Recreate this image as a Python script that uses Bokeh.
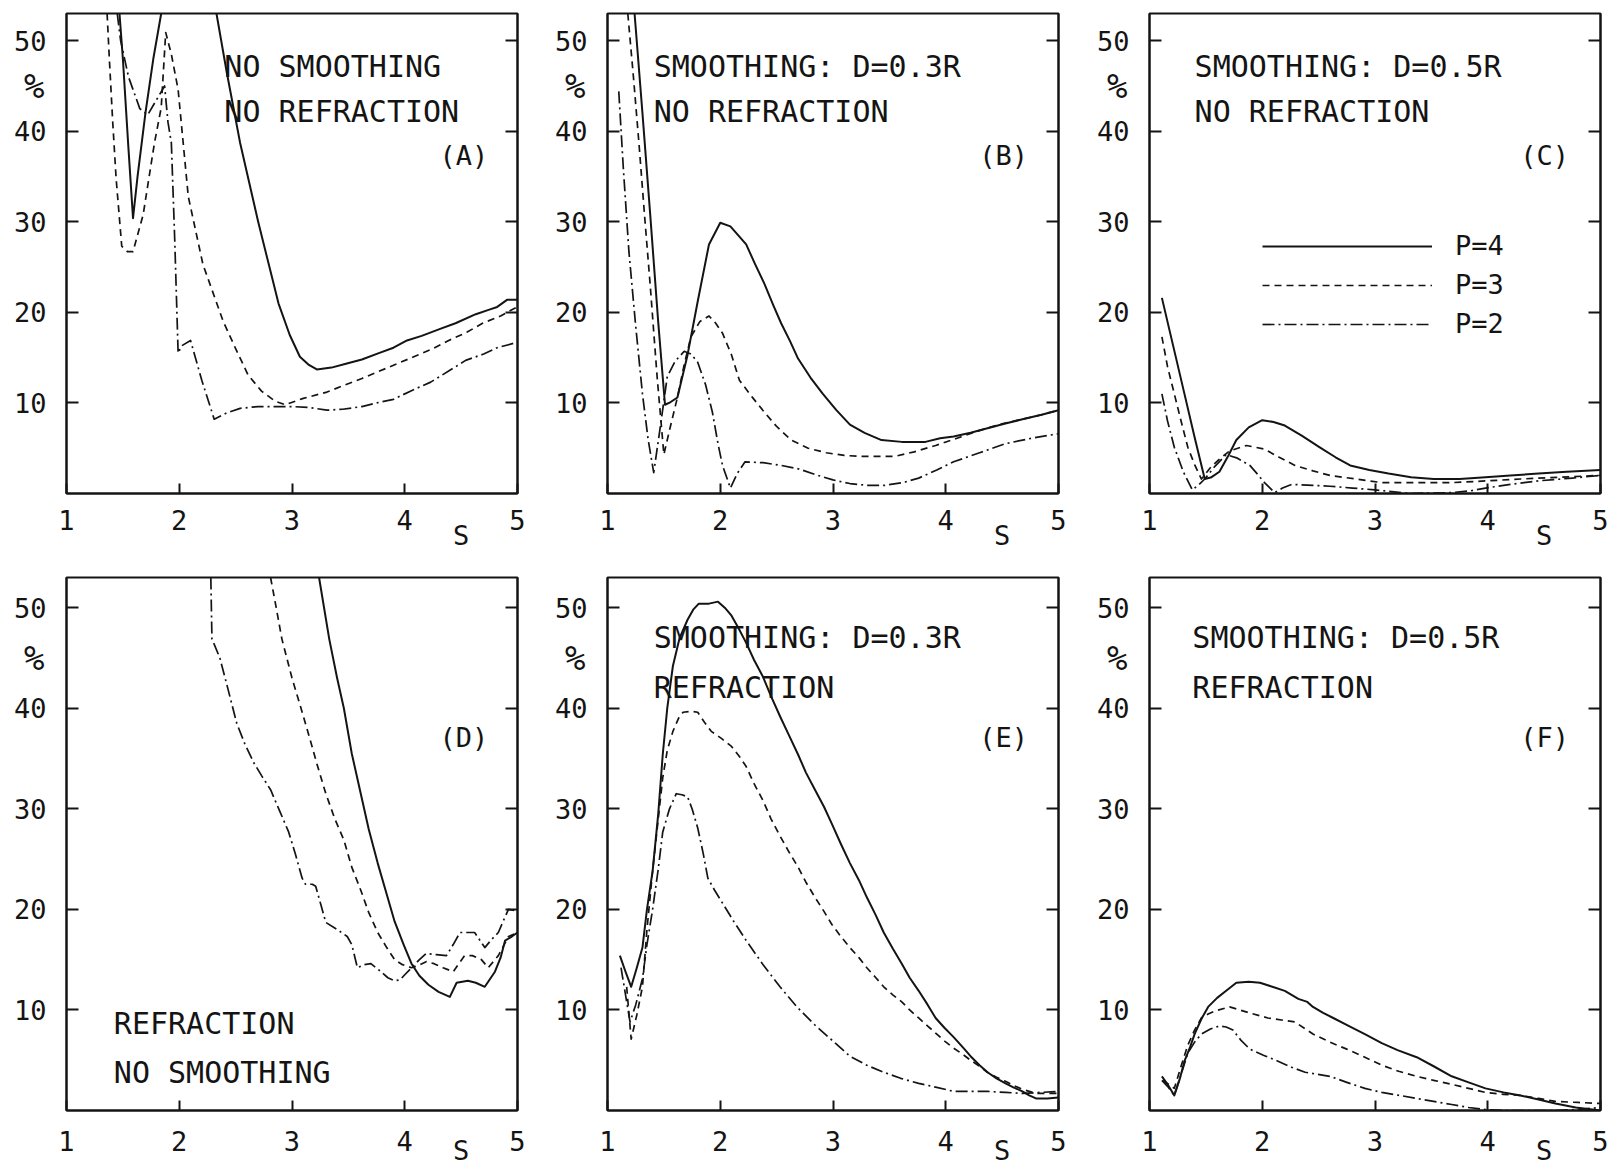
import math
from bokeh.plotting import figure
from bokeh.layouts import column, row
from bokeh.models import Range1d, FixedTicker, LinearAxis, Label, Legend, LegendItem
from bokeh.embed import file_html
from bokeh.resources import INLINE

NAN = float("nan")

# ---------------- axes / labels ----------------
S_TICKS = [1, 2, 3, 4, 5]
PCT_TICKS = [10, 20, 30, 40, 50]
SERIES = ["P=4", "P=3", "P=2"]
X_NAME, X_NAME_AT = "S", 4.5      # axis name written between the 4 and 5 ticks
Y_NAME, Y_NAME_AT = "%", 45       # axis name written under the 50 tick

# ---------------- panel A : no smoothing, no refraction ----------------
A_S4 = [1.47, 1.50, 1.55, 1.59, 1.63, 1.70, 1.77, 1.84, NAN, 2.33, 2.42, 2.54, 2.70, 2.80, 2.88, 2.98, 3.07, 3.15, 3.22,
        3.35, 3.47, 3.62, 3.77, 3.90, 4.02, 4.15, 4.32, 4.45, 4.63, 4.75, 4.82, 4.91, 5.0]
A_V4 = [53, 48, 38, 30.4, 35, 42, 48, 53, NAN, 53, 46.6, 38.7, 30.0, 25.0, 21.0, 17.5, 15.1, 14.2, 13.7,
        13.9, 14.3, 14.8, 15.5, 16.1, 16.9, 17.4, 18.2, 18.8, 19.8, 20.3, 20.6, 21.4, 21.4]
A_S3 = [1.36, 1.38, 1.41, 1.44, 1.49, 1.54, 1.59, 1.68, 1.78, 1.84, 1.88, 1.93, 1.99, 2.08, 2.21, 2.39, 2.50, 2.61,
        2.73, 2.85, 2.94, 3.10, 3.31, 3.45, 3.62, 3.85, 4.08, 4.25, 4.39, 4.55, 4.69, 4.85, 4.95, 5.0]
A_V3 = [53, 48, 41, 34.8, 27.3, 26.7, 26.7, 30.8, 38.7, 42.6, 50.9, 48.5, 44.6, 32.8, 25.3, 19.0, 16.0, 13.1,
        11.3, 10.2, 9.8, 10.5, 11.2, 11.9, 12.7, 13.9, 15.1, 16.0, 16.9, 17.8, 18.8, 19.6, 20.3, 20.6]
A_S2 = [1.45, 1.48, 1.55, 1.65, 1.72, 1.80, 1.87, 1.90, 1.93, 1.96, 1.99, 2.02, 2.10, 2.20, 2.31, 2.42, 2.54, 2.70,
        2.85, 3.0, 3.15, 3.31, 3.45, 3.62, 3.75, 3.90, 4.05, 4.23, 4.40, 4.54, 4.70, 4.82, 5.0]
A_V2 = [53, 50, 46, 42.5, 41.8, 43.5, 45.0, 41, 38.7, 28, 15.5, 16.3, 16.9, 12.5, 8.2, 8.9, 9.4, 9.6,
        9.6, 9.6, 9.5, 9.2, 9.3, 9.6, 10.0, 10.4, 11.3, 12.3, 13.6, 14.7, 15.4, 16.1, 16.7]

# ---------------- panel B : smoothing D=0.3R, no refraction ----------------
B_S4 = [1.24, 1.31, 1.38, 1.45, 1.51, 1.56, 1.62, 1.71, 1.80, 1.90, 2.0, 2.09, 2.16, 2.23, 2.31, 2.39, 2.47, 2.54,
        2.62, 2.69, 2.80, 2.91, 3.03, 3.15, 3.28, 3.43, 3.61, 3.82, 3.95, 4.07, 4.22, 4.37, 4.52, 4.68, 4.85, 5.0]
B_V4 = [53, 42, 30.6, 18.9, 9.8, 10.1, 10.6, 15.3, 21.2, 27.5, 29.9, 29.5, 28.5, 27.5, 25.3, 23.2, 20.8, 18.8,
        16.8, 14.9, 12.8, 11.0, 9.2, 7.6, 6.7, 5.9, 5.7, 5.7, 6.1, 6.3, 6.7, 7.2, 7.7, 8.2, 8.7, 9.2]
B_S3 = [1.18, 1.23, 1.28, 1.33, 1.38, 1.44, 1.50, 1.55, 1.62, 1.68, 1.74, 1.82, 1.90, 1.96, 2.02, 2.10, 2.17, 2.28,
        2.39, 2.50, 2.63, 2.78, 2.94, 3.10, 3.24, 3.40, 3.55, 3.72, 3.91, 4.10, 4.31, 4.50, 4.68, 4.85, 5.0]
B_V3 = [53, 46, 38.5, 30.5, 22.8, 12.9, 4.3, 7.0, 10.6, 14.2, 17.3, 19.0, 19.6, 18.8, 17.7, 15.3, 12.5, 10.7,
        9.0, 7.4, 5.9, 5.0, 4.5, 4.2, 4.1, 4.1, 4.1, 4.6, 5.3, 6.1, 7.0, 7.7, 8.2, 8.7, 9.2]
B_S2 = [1.10, 1.14, 1.19, 1.25, 1.31, 1.36, 1.41, 1.47, 1.53, 1.60, 1.68, 1.74, 1.80, 1.87, 1.93, 1.98, 2.02, 2.09,
        2.15, 2.22, 2.38, 2.54, 2.70, 2.84, 3.0, 3.15, 3.30, 3.46, 3.62, 3.76, 3.92, 4.07, 4.30, 4.53, 4.76, 5.0]
B_V2 = [44.4, 36, 26.7, 18.5, 11.0, 6.0, 2.3, 7.5, 12.9, 14.6, 15.7, 15.4, 14.5, 12.0, 9.0, 5.5, 3.1, 0.6,
        2.2, 3.5, 3.4, 3.1, 2.7, 2.1, 1.5, 1.1, 0.9, 0.9, 1.2, 1.7, 2.6, 3.5, 4.5, 5.5, 6.1, 6.6]

# ---------------- panel C : smoothing D=0.5R, no refraction ----------------
C_S4 = [1.11, 1.21, 1.31, 1.40, 1.49, 1.55, 1.62, 1.70, 1.77, 1.88, 2.0, 2.10, 2.20, 2.35, 2.51, 2.65, 2.78, 2.95,
        3.12, 3.32, 3.52, 3.75, 3.98, 4.20, 4.45, 4.70, 5.0]
C_V4 = [21.6, 16.3, 11.0, 6.2, 1.6, 1.8, 2.4, 4.2, 5.9, 7.3, 8.1, 7.9, 7.5, 6.4, 5.1, 4.0, 3.1, 2.6,
        2.2, 1.8, 1.6, 1.6, 1.8, 2.0, 2.2, 2.4, 2.6]
C_S3 = [1.11, 1.16, 1.22, 1.28, 1.34, 1.40, 1.46, 1.55, 1.63, 1.71, 1.86, 2.02, 2.15, 2.29, 2.45, 2.60, 2.83, 3.06,
        3.35, 3.68, 4.0, 4.29, 4.65, 5.0]
C_V3 = [17.3, 14.0, 11.0, 8.0, 5.1, 3.2, 1.6, 3.0, 3.9, 4.7, 5.3, 4.9, 4.0, 3.1, 2.5, 2.0, 1.6, 1.2,
        1.2, 1.2, 1.4, 1.6, 1.8, 2.0]
C_S2 = [1.11, 1.16, 1.22, 1.30, 1.38, 1.44, 1.49, 1.58, 1.68, 1.78, 1.89, 1.96, 2.02, 2.11, 2.18, 2.26, 2.45, 2.60,
        2.80, 3.0, 3.31, 3.50, 3.68, 3.85, 3.98, 4.20, 4.45, 4.75, 5.0]
C_V2 = [11.0, 8.0, 5.1, 2.4, 0.4, 1.0, 1.6, 3.0, 4.3, 3.9, 3.1, 2.1, 1.2, 0.1, 0.6, 1.0, 0.9, 0.8,
        0.6, 0.4, 0.0, 0.05, 0.1, 0.3, 0.6, 1.0, 1.4, 1.7, 2.0]

# ---------------- panel D : refraction, no smoothing ----------------
D_S4 = [3.24, 3.33, 3.40, 3.46, 3.53, 3.61, 3.68, 3.76, 3.84, 3.91, 3.99, 4.06, 4.13, 4.21, 4.30, 4.40, 4.46, 4.56,
        4.63, 4.71, 4.80, 4.85, 4.89, 4.95, 5.0]
D_V4 = [53, 46.9, 43, 40, 35.5, 31.5, 28, 24.6, 21.5, 18.8, 16.5, 14.6, 13.4, 12.5, 11.8, 11.3, 12.7, 12.9,
        12.7, 12.3, 13.8, 15.2, 16.9, 17.3, 17.7]
D_S3 = [2.81, 2.86, 2.91, 3.0, 3.08, 3.15, 3.22, 3.30, 3.38, 3.46, 3.53, 3.61, 3.68, 3.76, 3.84, 3.91, 3.98, 4.06,
        4.12, 4.19, 4.26, 4.34, 4.43, 4.53, 4.60, 4.68, 4.74, 4.83, 4.92, 5.0]
D_V3 = [53, 50, 46.9, 43, 40, 37.3, 34.5, 31.5, 29, 26.9, 24.2, 21.9, 19.7, 17.7, 16.2, 15.0, 14.5, 14.2,
        14.4, 14.8, 14.6, 14.2, 13.8, 15.4, 15.4, 15.0, 14.2, 15.4, 17.3, 17.7]
D_S2 = [2.28, 2.29, 2.36, 2.43, 2.51, 2.58, 2.66, 2.73, 2.81, 2.89, 2.97, 3.03, 3.09, 3.12, 3.18, 3.21, 3.26, 3.30,
        3.40, 3.49, 3.53, 3.58, 3.64, 3.70, 3.79, 3.85, 3.91, 3.96, 4.0, 4.07, 4.13, 4.19, 4.28, 4.37, 4.43, 4.49,
        4.62, 4.71, 4.77, 4.83, 4.88, 4.92, 4.97, 5.0]
D_V2 = [53, 46.9, 45, 42, 38.5, 36.5, 34.6, 33.3, 31.9, 29.8, 27.7, 25.5, 23.1, 22.5, 22.5, 22.3, 20.3, 18.7,
        18.0, 17.3, 16.5, 14.2, 14.5, 14.6, 13.8, 13.2, 12.9, 13.0, 13.5, 14.3, 15.0, 15.6, 15.5, 15.4, 16.5, 17.7,
        17.7, 16.2, 17.0, 17.7, 19.0, 20.0, 19.9, 19.8]

# ---------------- panel E : smoothing D=0.3R, refraction ----------------
E_S4 = [1.11, 1.16, 1.21, 1.26, 1.31, 1.35, 1.40, 1.45, 1.49, 1.53, 1.58, 1.64, 1.71, 1.76, 1.81, 1.90, 1.98, 2.04,
        2.10, 2.16, 2.23, 2.30, 2.38, 2.45, 2.53, 2.61, 2.69, 2.76, 2.84, 2.92, 2.99, 3.07, 3.15, 3.23, 3.30, 3.38,
        3.45, 3.53, 3.61, 3.68, 3.76, 3.84, 3.91, 3.99, 4.07, 4.15, 4.22, 4.30, 4.37, 4.45, 4.53, 4.60, 4.68, 4.74,
        4.80, 4.90, 5.0]
E_V4 = [15.4, 13.8, 12.3, 14.2, 16.2, 20.0, 23.8, 29.5, 35.4, 40.0, 44.2, 47.0, 48.8, 49.8, 50.4, 50.4, 50.6, 50.0,
        49.2, 48.0, 46.5, 44.8, 43.1, 41.2, 39.2, 37.3, 35.4, 33.6, 31.9, 30.2, 28.5, 26.5, 24.6, 22.9, 21.2, 19.4,
        17.7, 16.1, 14.6, 13.2, 11.9, 10.5, 9.2, 8.2, 7.3, 6.3, 5.4, 4.5, 3.8, 3.2, 2.7, 2.3, 1.9, 1.5,
        1.2, 1.2, 1.3]
E_S3 = [1.17, 1.21, 1.26, 1.31, 1.35, 1.40, 1.45, 1.49, 1.53, 1.58, 1.63, 1.67, 1.74, 1.80, 1.86, 1.92, 2.01, 2.10,
        2.17, 2.23, 2.30, 2.38, 2.45, 2.53, 2.61, 2.69, 2.76, 2.84, 2.92, 2.99, 3.07, 3.15, 3.23, 3.30, 3.38, 3.45,
        3.53, 3.61, 3.68, 3.76, 3.84, 3.91, 3.99, 4.07, 4.15, 4.22, 4.30, 4.37, 4.45, 4.53, 4.60, 4.68, 4.80, 5.0]
E_V3 = [12.3, 7.1, 9.5, 12.3, 18.0, 23.8, 29.0, 33.1, 35.8, 37.7, 39.0, 39.6, 39.7, 39.6, 38.6, 37.7, 37.0, 36.2,
        35.2, 34.2, 32.5, 30.8, 29.0, 27.3, 25.7, 24.2, 22.7, 21.2, 19.8, 18.5, 17.3, 16.2, 15.2, 14.2, 13.2, 12.3,
        11.5, 10.8, 10.0, 9.2, 8.4, 7.7, 6.9, 6.2, 5.6, 5.0, 4.4, 3.8, 3.3, 2.9, 2.5, 2.1, 1.7, 1.7]
E_S2 = [1.12, 1.16, 1.20, 1.25, 1.31, 1.35, 1.40, 1.45, 1.49, 1.55, 1.61, 1.66, 1.71, 1.75, 1.80, 1.85, 1.89, 1.95,
        2.01, 2.12, 2.23, 2.38, 2.53, 2.68, 2.84, 3.0, 3.15, 3.30, 3.45, 3.60, 3.76, 3.92, 4.07, 4.22, 4.37, 4.53,
        4.68, 4.84, 5.0]
E_V2 = [14.2, 11.5, 8.8, 10.5, 13.1, 16.5, 20.0, 24.0, 27.7, 30.0, 31.5, 31.4, 31.2, 30.0, 28.1, 25.5, 23.1, 21.9,
        20.8, 18.8, 16.9, 14.5, 12.3, 10.3, 8.5, 6.9, 5.4, 4.5, 3.8, 3.2, 2.7, 2.3, 1.9, 1.9, 1.9, 1.8,
        1.7, 1.8, 1.9]

# ---------------- panel F : smoothing D=0.5R, refraction ----------------
F_S4 = [1.11, 1.16, 1.22, 1.27, 1.31, 1.36, 1.40, 1.46, 1.52, 1.60, 1.68, 1.77, 1.88, 1.98, 2.09, 2.20, 2.32, 2.40,
        2.45, 2.54, 2.63, 2.77, 2.91, 3.06, 3.20, 3.37, 3.52, 3.68, 3.83, 3.98, 4.14, 4.29, 4.45, 4.60, 4.78, 5.0]
F_V4 = [3.4, 2.6, 1.5, 3.2, 4.9, 6.3, 7.6, 9.1, 10.3, 11.2, 11.9, 12.7, 12.8, 12.7, 12.3, 11.9, 11.1, 10.8,
        10.3, 9.7, 9.2, 8.4, 7.6, 6.7, 6.0, 5.3, 4.4, 3.4, 2.8, 2.2, 1.8, 1.5, 1.1, 0.7, 0.3, 0.0]
F_S3 = [1.12, 1.22, 1.28, 1.34, 1.40, 1.46, 1.52, 1.58, 1.71, 1.80, 1.89, 2.05, 2.17, 2.29, 2.37, 2.45, 2.60, 2.75,
        2.91, 3.06, 3.21, 3.37, 3.52, 3.68, 3.83, 3.98, 4.14, 4.29, 4.45, 4.60, 4.80, 5.0]
F_V3 = [3.0, 2.2, 4.4, 6.5, 8.0, 9.2, 9.6, 9.9, 10.3, 10.0, 9.7, 9.2, 9.0, 8.8, 8.2, 7.6, 6.8, 6.1,
        5.3, 4.5, 3.9, 3.4, 3.0, 2.6, 2.2, 1.8, 1.6, 1.5, 1.2, 0.9, 0.8, 0.7]
F_S2 = [1.11, 1.16, 1.22, 1.28, 1.34, 1.40, 1.46, 1.54, 1.62, 1.68, 1.74, 1.81, 1.89, 2.01, 2.14, 2.26, 2.38, 2.49,
        2.60, 2.75, 2.91, 3.06, 3.22, 3.37, 3.52, 3.68, 3.83, 3.98, 4.14, 4.40, 4.60, 4.80, 5.0]
F_V2 = [3.0, 2.4, 1.5, 3.6, 5.7, 6.8, 7.6, 8.1, 8.4, 8.3, 8.0, 7.0, 6.1, 5.5, 4.9, 4.3, 3.8, 3.6,
        3.4, 2.8, 2.2, 1.8, 1.5, 1.2, 0.9, 0.6, 0.3, 0.1, 0.0, 0.0, 0.0, 0.1, 0.3]

# ---------------- panel texts ----------------
A_TEXT = ["NO SMOOTHING", "NO REFRACTION", "(A)"]
B_TEXT = ["SMOOTHING: D=0.3R", "NO REFRACTION", "(B)"]
C_TEXT = ["SMOOTHING: D=0.5R", "NO REFRACTION", "(C)"]
D_TEXT = ["REFRACTION", "NO SMOOTHING", "(D)"]
E_TEXT = ["SMOOTHING: D=0.3R", "REFRACTION", "(E)"]
F_TEXT = ["SMOOTHING: D=0.5R", "REFRACTION", "(F)"]

# ---------------- styling ----------------
FONT = "DejaVu Sans Mono"
TICK_FS = "27px"
NOTE_FS = "30px"
INK = "#141414"
STYLES = [dict(line_dash="solid", line_width=2.0),
          dict(line_dash="7 5", line_width=1.7),
          dict(line_dash="12 4 2 4", line_width=1.7)]

FRAME_W = 451
TOP_FRAME_H = 480
BOT_FRAME_H = 533


def make_panel(width, height, lb, rb, tb, bb, num_standoff, s_standoff):
    p = figure(width=width, height=height, x_range=Range1d(1, 5), y_range=Range1d(0, 53),
               output_backend="svg", toolbar_location=None,
               x_axis_type=None, y_axis_type=None,
               min_border_left=lb, min_border_right=rb, min_border_top=tb, min_border_bottom=bb)
    p.outline_line_color = INK
    p.outline_line_width = 2
    p.background_fill_color = "white"
    p.border_fill_color = "white"

    xa = LinearAxis(ticker=FixedTicker(ticks=S_TICKS))
    xa.major_tick_in = 10
    xa.major_tick_out = 0
    xa.major_label_standoff = num_standoff
    p.add_layout(xa, "below")

    # axis name "S" (outer, invisible axis pulled up beside the tick numbers)
    xn = LinearAxis(ticker=FixedTicker(ticks=[X_NAME_AT]), major_label_overrides={X_NAME_AT: X_NAME})
    xn.major_label_standoff = s_standoff
    p.add_layout(xn, "below")

    ya = LinearAxis(ticker=FixedTicker(ticks=PCT_TICKS))
    ya.major_tick_in = 12
    ya.major_tick_out = 0
    ya.major_label_standoff = 20
    p.add_layout(ya, "left")

    # axis name "%" (outer, invisible axis pulled in under the 50 label)
    yn = LinearAxis(ticker=FixedTicker(ticks=[Y_NAME_AT]), major_label_overrides={Y_NAME_AT: Y_NAME})
    yn.major_label_standoff = -34
    p.add_layout(yn, "left")

    yr = LinearAxis(ticker=FixedTicker(ticks=PCT_TICKS))
    yr.major_tick_in = 12
    yr.major_tick_out = 0
    yr.major_label_text_font_size = "1px"
    yr.major_label_text_color = None
    yr.major_label_standoff = 0
    p.add_layout(yr, "right")

    for ax in (xa, ya, yr):
        ax.axis_line_color = INK
        ax.axis_line_width = 2
        ax.major_tick_line_color = INK
        ax.major_tick_line_width = 2
    for ax in (xn, yn):
        ax.major_tick_in = 0
        ax.major_tick_out = 0
        ax.axis_line_color = None
        ax.major_tick_line_color = None
    for ax in (xa, ya, yr, xn, yn):
        ax.minor_tick_line_color = None
        ax.major_label_text_font = FONT
    for ax in (xa, ya, xn):
        ax.major_label_text_color = INK
        ax.major_label_text_font_size = TICK_FS
    yn.major_label_text_color = INK
    yn.major_label_text_font_size = "34px"
    return p


def add_curves(p, data):
    rs = []
    for (s, v), st in zip(data, STYLES):
        rs.append(p.line(s, v, line_color=INK, line_join="round", **st))
    return rs


def add_text(p, texts, x1, y1, y2, xr, yr):
    p.add_layout(Label(x=x1, y=y1, text=texts[0], text_font=FONT, text_font_size=NOTE_FS,
                       text_baseline="middle", text_color=INK))
    p.add_layout(Label(x=x1, y=y2, text=texts[1], text_font=FONT, text_font_size=NOTE_FS,
                       text_baseline="middle", text_color=INK))
    p.add_layout(Label(x=xr, y=yr, text=texts[2], text_font=FONT, text_font_size="27px",
                       text_align="right", text_baseline="middle", text_color=INK))


# figure sizes (borders chosen so frames sit where the reference has them)
TOP_H = 13 + TOP_FRAME_H + 62          # 555
BOT_H = 22 + BOT_FRAME_H + 59          # 614  -> total 1169

pA = make_panel(66 + FRAME_W + 32, TOP_H, 66, 32, 13, 62, 16, -13)
pB = make_panel(58 + FRAME_W + 33, TOP_H, 58, 33, 13, 62, 16, -13)
pC = make_panel(58 + FRAME_W + 10, TOP_H, 58, 10, 13, 62, 16, -13)
pD = make_panel(66 + FRAME_W + 32, BOT_H, 66, 32, 22, 59, 20, -19)
pE = make_panel(58 + FRAME_W + 33, BOT_H, 58, 33, 22, 59, 20, -19)
pF = make_panel(58 + FRAME_W + 10, BOT_H, 58, 10, 22, 59, 20, -19)

add_curves(pA, [(A_S4, A_V4), (A_S3, A_V3), (A_S2, A_V2)])
add_curves(pB, [(B_S4, B_V4), (B_S3, B_V3), (B_S2, B_V2)])
rc = add_curves(pC, [(C_S4, C_V4), (C_S3, C_V3), (C_S2, C_V2)])
add_curves(pD, [(D_S4, D_V4), (D_S3, D_V3), (D_S2, D_V2)])
add_curves(pE, [(E_S4, E_V4), (E_S3, E_V3), (E_S2, E_V2)])
add_curves(pF, [(F_S4, F_V4), (F_S3, F_V3), (F_S2, F_V2)])

add_text(pA, A_TEXT, 2.40, 47.2, 42.2, 4.74, 37.3)
add_text(pB, B_TEXT, 1.41, 47.2, 42.2, 4.73, 37.3)
add_text(pC, C_TEXT, 1.40, 47.2, 42.2, 4.72, 37.3)
add_text(pD, D_TEXT, 1.42, 8.7, 3.8, 4.74, 37.1)
add_text(pE, E_TEXT, 1.41, 47.0, 42.1, 4.73, 37.1)
add_text(pF, F_TEXT, 1.38, 47.0, 42.1, 4.72, 37.1)

legend = Legend(items=[LegendItem(label=lab, renderers=[r]) for lab, r in zip(SERIES, rc)],
                location=(113, 154), orientation="vertical")
legend.glyph_width = 170
legend.glyph_height = 20
legend.label_height = 20
legend.label_standoff = 23
legend.spacing = 8
legend.padding = 0
legend.margin = 0
legend.border_line_color = None
legend.background_fill_alpha = 0
legend.label_text_font = FONT
legend.label_text_font_size = "27px"
legend.label_text_color = INK
pC.add_layout(legend)

layout = column(row(pA, pB, pC), row(pD, pE, pF))
open("out.html", "w").write(file_html(layout, INLINE))
